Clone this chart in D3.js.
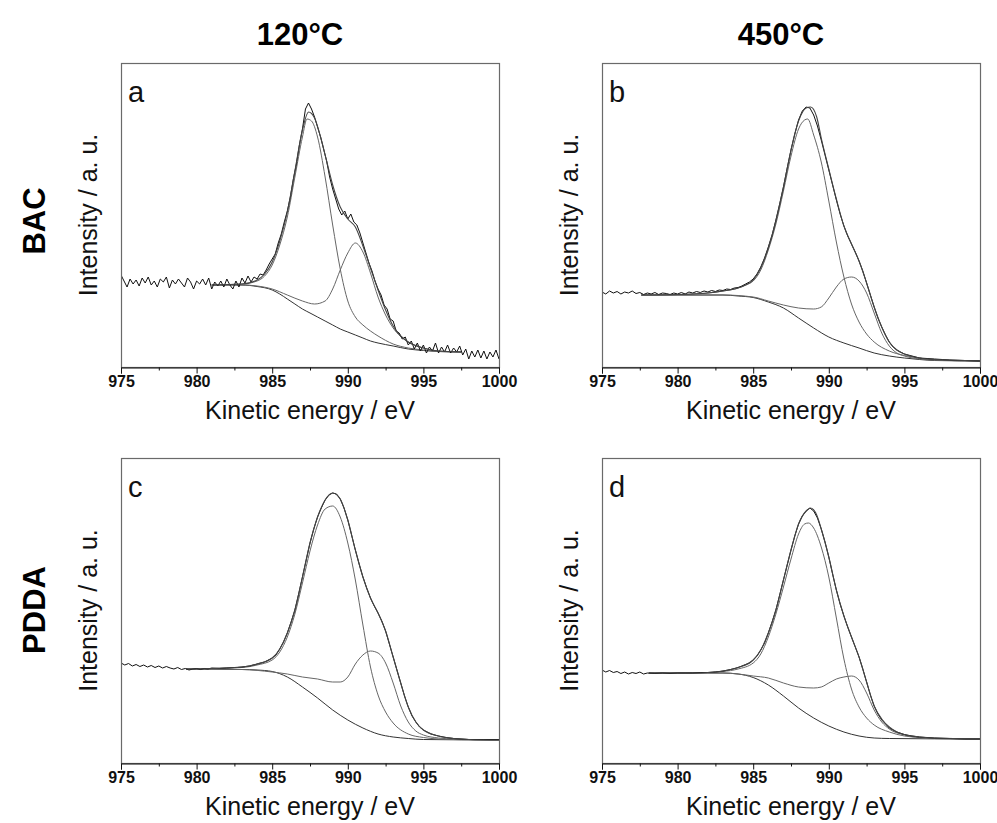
<!DOCTYPE html>
<html><head><meta charset="utf-8">
<script src="https://cdn.jsdelivr.net/npm/d3@7"></script>
<style>body{margin:0;background:#fff}svg{display:block}</style>
</head><body>
<script>
// ---------- DATA ----------
const xTicks = [975, 980, 985, 990, 995, 1000];
const xMinorTicks = [977.5, 982.5, 987.5, 992.5, 997.5];
const colTitles = ["120°C", "450°C"];
const rowTitles = ["BAC", "PDDA"];
const panelLetters = ["a", "b", "c", "d"];
const xLabel = "Kinetic energy / eV";
const yLabel = "Intensity / a. u.";

// Panel a (BAC, 120°C)
const rawA = [[975,92],[975.2,86],[975.4,80],[975.6,88],[975.8,83],[976,87],[976.2,81],[976.4,89],[976.6,84],[976.8,90],[977,82],[977.2,86],[977.4,80],[977.6,88],[977.8,85],[978,90],[978.2,79],[978.4,87],[978.6,83],[978.8,88],[979,84],[979.2,80],[979.4,89],[979.6,85],[979.8,78],[980,86],[980.2,83],[980.4,88],[980.6,82],[980.8,89],[981,78],[981.2,85],[981.4,81],[981.6,86],[981.8,80],[982,88],[982.2,82],[982.4,78],[982.6,86],[982.8,80],[983,89],[983.2,84],[983.4,91],[983.6,85],[983.8,90],[984,88],[984.2,93],[984.4,92],[984.6,97],[984.8,103],[985,108],[985.2,113],[985.4,124],[985.6,133],[985.8,145],[986,156],[986.2,170],[986.4,188],[986.6,203],[986.8,222],[987,238],[987.2,258],[987.4,264],[987.6,258],[987.8,250],[988,240],[988.2,230],[988.4,218],[988.6,206],[988.8,190],[989,178],[989.2,168],[989.4,158],[989.6,152],[989.8,156],[990,148],[990.2,153],[990.4,145],[990.6,142],[990.8,134],[991,124],[991.2,114],[991.4,104],[991.6,96],[991.8,86],[992,78],[992.2,72],[992.4,62],[992.6,58],[992.8,48],[993,46],[993.2,36],[993.4,34],[993.6,28],[993.8,30],[994,22],[994.2,26],[994.4,18],[994.6,24],[994.8,16],[995,22],[995.2,14],[995.4,20],[995.6,16],[995.8,24],[996,14],[996.2,20],[996.4,15],[996.6,22],[996.8,14],[997,19],[997.2,15],[997.4,21],[997.6,12],[997.8,18],[998,8],[998.2,16],[998.4,10],[998.6,17],[998.8,9],[999,16],[999.2,8],[999.4,15],[999.6,10],[999.8,17],[1000,8]];
const envA = [[981,82],[983,83],[984,87],[984.5,93],[985,105],[985.5,126],[986,155],[986.5,196],[987,237],[987.4,255],[987.8,249],[988.2,230],[988.6,206],[989,182],[989.5,160],[990,148],[990.5,140],[991,121],[991.5,99],[992,77],[992.5,57],[993,41],[993.5,31],[994,25],[995,19],[996,16],[997.5,15]];
const p1A = [[981,82],[983,83],[984,86],[984.5,91],[985,102],[985.5,122],[986,150],[986.5,190],[987,230],[987.3,248],[987.6,246],[988,230],[988.5,190],[989,142],[989.5,98],[990,66],[990.5,50],[991,42],[991.5,36],[992,31],[993,23],[994,19],[995,17],[996,15.5],[997.5,15]];
const p2A = [[981,82],[983,82],[984,81],[985,78],[986,72],[987,66],[987.8,63],[988.5,66],[989,78],[989.5,97],[990,114],[990.5,124],[991,115],[991.5,94],[992,70],[992.5,52],[993,39],[994,25],[995,19],[996,16],[997.5,15]];
const bgA = [[981,82],[983,82],[984,80.5],[985,77],[985.5,73],[986,68],[986.5,63],[987,58],[987.5,54],[988,50],[988.5,46],[989,42],[989.5,38],[990,35],[990.5,32],[991,29],[991.5,26],[992,24],[993,21],[994,18],[995,16.5],[996,15.5],[997.5,15]];

// Panel b (BAC, 450°C)
const rawB = [[975,75],[975.25,73],[975.5,76],[975.75,74],[976,75.5],[976.25,73],[976.5,75],[976.75,74],[977,76],[977.25,73.5],[977.5,74.5],[977.75,72.5],[978,74],[978.25,73],[978.5,74.5],[978.75,72.5],[979,74],[979.25,73.5],[979.5,72.5],[979.75,74],[980,73],[980.25,74.5],[980.5,73],[980.75,75],[981,74],[981.25,75.5],[981.5,74.5],[981.75,76],[982,75],[982.25,76.5],[982.5,75.5],[982.75,77],[983,76.5],[983.25,78],[983.5,77.5],[983.75,79],[984,79.5],[984.25,81],[984.5,83],[984.75,85],[985,88],[985.25,93],[985.5,100],[985.75,109],[986,120],[986.25,132],[986.5,147],[986.75,163],[987,180],[987.25,199],[987.5,217],[987.75,233],[988,247],[988.25,256],[988.5,260],[988.75,259],[989,252],[989.25,241],[989.5,227],[989.75,212],[990,197],[990.25,182],[990.5,167],[990.75,153],[991,141],[991.25,131],[991.5,123],[991.75,115],[992,106],[992.25,96],[992.5,84],[992.75,72],[993,60],[993.25,49],[993.5,40],[993.75,32],[994,25],[994.25,20],[994.5,17],[994.75,15],[995,13],[995.5,11],[996,9],[996.5,8.5],[997,8],[997.5,7.5],[998,7],[999,6.5],[1000,6]];
const envB = [[977.6,72],[980,72.5],[982,74],[983,76],[984,79],[984.5,82],[985,87],[985.5,99],[986,119],[986.5,146],[987,180],[987.5,217],[988,246],[988.5,259],[988.8,260],[989.2,250],[989.5,229],[990,198],[990.5,168],[991,141],[991.5,123],[992,106],[992.5,84],[993,60],[993.5,40],[994,25],[994.5,17],[995,13],[996,9],[997,7.5],[998,7],[1000,6]];
const p1B = [[977.6,72],[980,72.5],[982,74],[983,76],[984,79],[984.5,82],[985,86],[985.5,97],[986,117],[986.5,143],[987,176],[987.5,211],[988,238],[988.4,247],[988.6,248],[989,232],[989.5,205],[990,166],[990.5,125],[991,90],[991.5,63],[992,45],[992.5,33],[993,25],[994,16],[995,11.5],[996,9],[997,7],[1000,6]];
const p2B = [[977.6,72],[983,72],[985,70],[986,66],[987,62],[988,59],[989,58],[989.5,60],[990,69],[990.5,80],[991,88],[991.5,90],[992,86],[992.5,74],[993,54],[993.5,34],[994,21],[994.5,14],[995,11],[996,8],[997,7],[1000,6]];
const bgB = [[977.6,72],[983,72],[984,71],[985,69.5],[986,65],[987,59],[988,49],[989,39],[990,30],[991,24],[992,19],[993,14],[994,11],[995,9],[996,7.5],[997,6.5],[1000,6]];

// Panel c (PDDA, 120°C)
const rawC = [[975,100],[975.25,98],[975.5,99.5],[975.75,97],[976,98.5],[976.25,96.5],[976.5,98],[976.75,96],[977,97.5],[977.25,95.5],[977.5,97],[977.75,95],[978,96.5],[978.25,95],[978.5,94],[978.75,95.5],[979,93.5],[979.25,94.5],[979.5,93],[979.75,94],[980,94.5],[980.25,93.5],[980.5,94.5],[980.75,94],[981,95],[981.5,94.5],[982,95],[982.5,95.5],[983,96],[983.5,97],[984,99],[984.5,101],[985,105],[985.25,108],[985.5,114],[985.75,121],[986,130],[986.25,141],[986.5,153],[986.75,169],[987,186],[987.25,203],[987.5,220],[987.75,234],[988,246],[988.25,255],[988.5,263],[988.75,268],[989,270],[989.25,269],[989.5,264],[989.75,255],[990,243],[990.25,228],[990.5,213],[990.75,199],[991,186],[991.25,175],[991.5,165],[991.75,157],[992,150],[992.25,142],[992.5,132],[992.75,119],[993,106],[993.25,93],[993.5,80],[993.75,67],[994,56],[994.25,47],[994.5,41],[994.75,36],[995,33],[995.5,29],[996,27],[996.5,25.5],[997,24.5],[998,23.5],[999,23.5],[1000,23.5]];
const envC = [[979.3,94],[981,94.5],[983,96],[984,99],[985,105],[985.5,114],[986,130],[986.5,153],[987,186],[987.5,220],[988,246],[988.5,263],[989,270],[989.5,264],[990,243],[990.5,213],[991,186],[991.5,165],[992,150],[992.5,132],[993,106],[993.5,80],[994,56],[994.5,41],[995,33],[996,27],[997,24.5],[998,23.5],[1000,23]];
const p1C = [[979.3,94],[981,94.5],[983,95.5],[984,98],[985,103],[985.5,111],[986,126],[986.5,149],[987,180],[987.5,212],[988,238],[988.5,254],[989,257],[989.5,246],[990,220],[990.5,183],[991,138],[991.5,96],[992,68],[992.5,51],[993,40],[994,29],[995,25.5],[996,24],[997,23.5],[1000,23]];
const p2C = [[979.3,94],[983,93.5],[985,91],[986,89],[987,86],[988,84],[989,81],[989.5,81],[990,86],[990.5,99],[991,108],[991.5,112],[992,110],[992.5,100],[993,80],[993.5,57],[994,41],[994.5,32],[995,28],[996,25],[997,24],[1000,23]];
const bgC = [[979.3,94],[983,93.5],[984,93],[985,91.5],[986,86],[987,76],[988,65],[989,53],[990,43],[991,35],[992,29],[993,26],[994,24.5],[995,23.5],[1000,23]];

// Panel d (PDDA, 450°C)
const rawD = [[975,93],[975.25,91],[975.5,92.5],[975.75,90.5],[976,91.5],[976.25,89.5],[976.5,91],[976.75,89],[977,90.5],[977.25,89.5],[977.5,91],[977.75,89],[978,90],[978.5,89.5],[979,90],[979.5,89.5],[980,90],[980.5,90],[981,90],[981.5,90.5],[982,90.5],[982.5,91],[983,92],[983.5,93.5],[984,95.5],[984.25,97],[984.5,98.5],[984.75,100],[985,103],[985.25,107],[985.5,113],[985.75,120],[986,130],[986.25,141],[986.5,153],[986.75,168],[987,183],[987.25,198],[987.5,213],[987.75,227],[988,239],[988.25,247],[988.5,252],[988.75,255],[989,252],[989.25,245],[989.5,234],[989.75,221],[990,206],[990.25,189],[990.5,173],[990.75,159],[991,147],[991.25,136],[991.5,126],[991.75,116],[992,106],[992.25,94],[992.5,81],[992.75,68],[993,57],[993.25,49],[993.5,43],[993.75,39],[994,35],[994.5,31],[995,28.5],[995.5,27],[996,26],[997,25],[998,24.5],[999,24],[1000,24]];
const envD = [[978.1,90],[981,90],[982,90.5],[983,92],[984,95.5],[985,103],[985.5,113],[986,130],[986.5,153],[987,183],[987.5,213],[988,239],[988.5,252],[988.8,255],[989.2,248],[989.5,234],[990,206],[990.5,173],[991,147],[991.5,126],[992,106],[992.5,81],[993,57],[993.5,44],[994,36],[994.5,31],[995,28.5],[996,26],[997,25],[1000,24]];
const p1D = [[978.1,90],[982,90.5],[983,91.5],[984,94],[985,100],[985.5,109],[986,126],[986.5,149],[987,176],[987.5,204],[988,229],[988.4,239],[988.65,240],[989,235],[989.5,216],[990,186],[990.5,145],[991,104],[991.5,74],[992,56],[992.5,45],[993,38],[994,31],[995,27],[996,25.5],[997,24.5],[1000,24]];
const p2D = [[978.1,90],[983,90],[984,89],[985,87],[986,85],[987,80],[988,76],[989,75],[989.5,76],[990,80],[990.5,84],[991,86],[991.5,87],[992,83],[992.5,70],[993,53],[993.5,41],[994,34],[995,28],[996,25.5],[997,24.5],[1000,24]];
const bgD = [[978.1,90],[983,90],[984,89],[985,85.5],[986,78],[987,67],[988,55],[989,45],[990,37],[991,31],[992,27],[993,25],[994,24.5],[1000,24]];

// ---------- LAYOUT ----------
const W = 997, H = 823;
const layout = [
  {letter: panelLetters[0], x0:121, x1:499, y0:63,  y1:367, yMax:304, raw:rawA, env:envA, p1:p1A, p2:p2A, bg:bgA},
  {letter: panelLetters[1], x0:602, x1:980, y0:63,  y1:367, yMax:304, raw:rawB, env:envB, p1:p1B, p2:p2B, bg:bgB},
  {letter: panelLetters[2], x0:121, x1:499, y0:458, y1:763, yMax:305, raw:rawC, env:envC, p1:p1C, p2:p2C, bg:bgC},
  {letter: panelLetters[3], x0:602, x1:980, y0:458, y1:763, yMax:305, raw:rawD, env:envD, p1:p1D, p2:p2D, bg:bgD}
];

const svg = d3.select("body").append("svg").attr("width", W).attr("height", H)
  .style("font-family", "'Liberation Sans', Arial, sans-serif");

layout.forEach(p => {
  const x = d3.scaleLinear().domain([975, 1000]).range([p.x0, p.x1]);
  const y = d3.scaleLinear().domain([0, p.yMax]).range([p.y1, p.y0]);
  const g = svg.append("g");
  const clipId = "clip" + p.letter;
  g.append("clipPath").attr("id", clipId).append("rect")
    .attr("x", p.x0).attr("y", p.y0).attr("width", p.x1 - p.x0).attr("height", p.y1 - p.y0);

  const line = d3.line().x(d => x(d[0])).y(d => y(d[1]));
  const smooth = d3.line().x(d => x(d[0])).y(d => y(d[1])).curve(d3.curveMonotoneX);
  const lg = g.append("g").attr("clip-path", `url(#${clipId})`).attr("fill", "none");
  lg.append("path").attr("d", smooth(p.bg)).attr("stroke", "#333").attr("stroke-width", 1);
  lg.append("path").attr("d", smooth(p.p2)).attr("stroke", "#666").attr("stroke-width", 1);
  lg.append("path").attr("d", smooth(p.p1)).attr("stroke", "#666").attr("stroke-width", 1);
  lg.append("path").attr("d", line(p.raw)).attr("stroke", "#111").attr("stroke-width", 1);
  lg.append("path").attr("d", smooth(p.env)).attr("stroke", "#444").attr("stroke-width", 1.1);

  // frame
  g.append("rect").attr("x", p.x0 + 0.5).attr("y", p.y0 + 0.5)
    .attr("width", p.x1 - p.x0).attr("height", p.y1 - p.y0)
    .attr("fill", "none").attr("stroke", "#6a6a6a").attr("stroke-width", 1.2);

  // bottom axis
  const ax = g.append("g").attr("transform", `translate(0,${p.y1 + 0.5})`)
    .call(d3.axisBottom(x).tickValues(xTicks).tickSize(6).tickPadding(2).tickFormat(d3.format("d")));
  ax.select(".domain").attr("stroke", "#111");
  ax.selectAll(".tick line").attr("stroke", "#111");
  ax.selectAll("text").attr("font-size", 16).attr("font-weight", "bold").attr("fill", "#111")
    .attr("font-family", "'Liberation Sans', Arial, sans-serif");
  const axm = g.append("g").attr("transform", `translate(0,${p.y1 + 0.5})`)
    .call(d3.axisBottom(x).tickValues(xMinorTicks).tickSize(3).tickFormat(""));
  axm.select(".domain").remove();
  axm.selectAll(".tick line").attr("stroke", "#111");

  // axis titles
  g.append("text").attr("x", (p.x0 + p.x1) / 2).attr("y", p.y1 + 52)
    .attr("text-anchor", "middle").attr("font-size", 25).attr("fill", "#111").text(xLabel);
  g.append("text").attr("transform", `translate(${p.x0 - 24},${(p.y0 + p.y1) / 2}) rotate(-90)`)
    .attr("text-anchor", "middle").attr("font-size", 25).attr("fill", "#111").text(yLabel);
  // panel letter
  g.append("text").attr("x", p.x0 + 7).attr("y", p.y0 + 39)
    .attr("font-size", 29).attr("fill", "#111").text(p.letter);
});

// column titles
[[310, colTitles[0]], [791, colTitles[1]]].forEach(([cx, t]) => {
  svg.append("text").attr("x", cx - 10).attr("y", 45).attr("text-anchor", "middle")
    .attr("font-size", 31).attr("font-weight", "bold").attr("fill", "#000").text(t);
});
// row titles
[[221, rowTitles[0]], [610, rowTitles[1]]].forEach(([cy, t]) => {
  svg.append("text").attr("transform", `translate(45,${cy}) rotate(-90)`).attr("text-anchor", "middle")
    .attr("font-size", 31).attr("font-weight", "bold").attr("fill", "#000").text(t);
});
</script>
</body></html>
